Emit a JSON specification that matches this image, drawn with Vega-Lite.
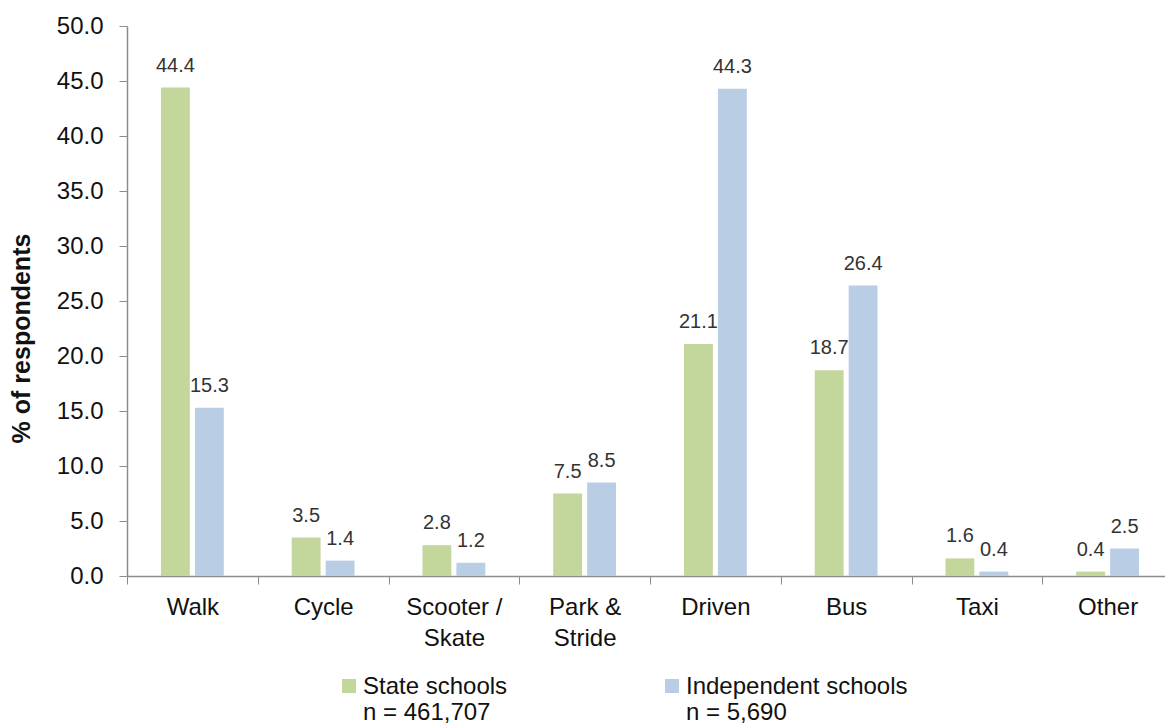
{
  "$schema": "https://vega.github.io/schema/vega-lite/v6.json",
  "autosize": "none",
  "width": 1046,
  "height": 550,
  "padding": {"left": 127, "top": 26, "right": 0, "bottom": 148},
  "background": "#ffffff",
  "config": {
    "font": "Liberation Sans",
    "view": {"stroke": null},
    "axis": {"grid": false}
  },
  "data": {
    "values": [
      {"mode": "Walk", "school": "State schools", "pct": 44.4},
      {"mode": "Walk", "school": "Independent schools", "pct": 15.3},
      {"mode": "Cycle", "school": "State schools", "pct": 3.5},
      {"mode": "Cycle", "school": "Independent schools", "pct": 1.4},
      {"mode": "Scooter / Skate", "school": "State schools", "pct": 2.8},
      {"mode": "Scooter / Skate", "school": "Independent schools", "pct": 1.2},
      {"mode": "Park & Stride", "school": "State schools", "pct": 7.5},
      {"mode": "Park & Stride", "school": "Independent schools", "pct": 8.5},
      {"mode": "Driven", "school": "State schools", "pct": 21.1},
      {"mode": "Driven", "school": "Independent schools", "pct": 44.3},
      {"mode": "Bus", "school": "State schools", "pct": 18.7},
      {"mode": "Bus", "school": "Independent schools", "pct": 26.4},
      {"mode": "Taxi", "school": "State schools", "pct": 1.6},
      {"mode": "Taxi", "school": "Independent schools", "pct": 0.4},
      {"mode": "Other", "school": "State schools", "pct": 0.4},
      {"mode": "Other", "school": "Independent schools", "pct": 2.5}
    ]
  },
  "encoding": {
    "x": {
      "field": "mode",
      "type": "nominal",
      "sort": null,
      "scale": {"paddingInner": 0, "paddingOuter": 0},
      "axis": {
        "title": null,
        "labelAngle": 0,
        "labelFontSize": 24,
        "labelColor": "#111111",
        "labelPadding": 11,
        "labelLineHeight": 31,
        "labelBaseline": "top",
        "labelExpr": "datum.label == 'Scooter / Skate' ? ['Scooter /', 'Skate'] : datum.label == 'Park & Stride' ? ['Park &', 'Stride'] : datum.label",
        "tickBand": "extent",
        "tickSize": 8,
        "tickColor": "#8c8c8c",
        "domainColor": "#8c8c8c",
        "domainWidth": 1.5
      }
    },
    "xOffset": {
      "field": "school",
      "type": "nominal",
      "sort": ["State schools", "Independent schools"],
      "scale": {"paddingInner": 0.15, "paddingOuter": 1.06}
    },
    "y": {
      "field": "pct",
      "type": "quantitative",
      "scale": {"domain": [0, 50]},
      "axis": {
        "title": "% of respondents",
        "titleFontSize": 25,
        "titleFontWeight": "bold",
        "titleColor": "#111111",
        "titleX": -106,
        "titleY": 312,
        "titleAngle": -90,
        "titleAlign": "center",
        "titleBaseline": "middle",
        "values": [0, 5, 10, 15, 20, 25, 30, 35, 40, 45, 50],
        "format": ".1f",
        "labelFontSize": 24,
        "labelColor": "#111111",
        "labelPadding": 16,
        "tickSize": 8,
        "tickColor": "#8c8c8c",
        "domainColor": "#8c8c8c",
        "domainWidth": 1.5
      }
    }
  },
  "layer": [
    {
      "mark": {"type": "bar"},
      "encoding": {
        "color": {
          "field": "school",
          "type": "nominal",
          "sort": ["State schools", "Independent schools"],
          "scale": {"domain": ["State schools", "Independent schools"], "range": ["#c3d69b", "#b9cde5"]},
          "legend": {
            "title": null,
            "orient": "none",
            "legendX": 210,
            "legendY": 648,
            "direction": "horizontal",
            "symbolType": "square",
            "symbolSize": 196,
            "symbolStrokeWidth": 0,
            "labelFontSize": 24,
            "labelColor": "#111111",
            "labelBaseline": "alphabetic",
            "labelLineHeight": 30,
            "labelOffset": 2,
            "labelLimit": 400,
            "columnPadding": 152,
            "labelExpr": "datum.label == 'State schools' ? ['State schools', 'n = 461,707'] : ['Independent schools', 'n = 5,690']",
            "encode": {"labels": {"update": {"dy": {"value": 8}}}}
          }
        }
      }
    },
    {
      "mark": {"type": "text", "baseline": "alphabetic", "align": "center", "dy": -16, "fontSize": 20, "color": "#333333"},
      "encoding": {
        "text": {"field": "pct", "type": "quantitative", "format": ".1f"}
      }
    }
  ]
}
